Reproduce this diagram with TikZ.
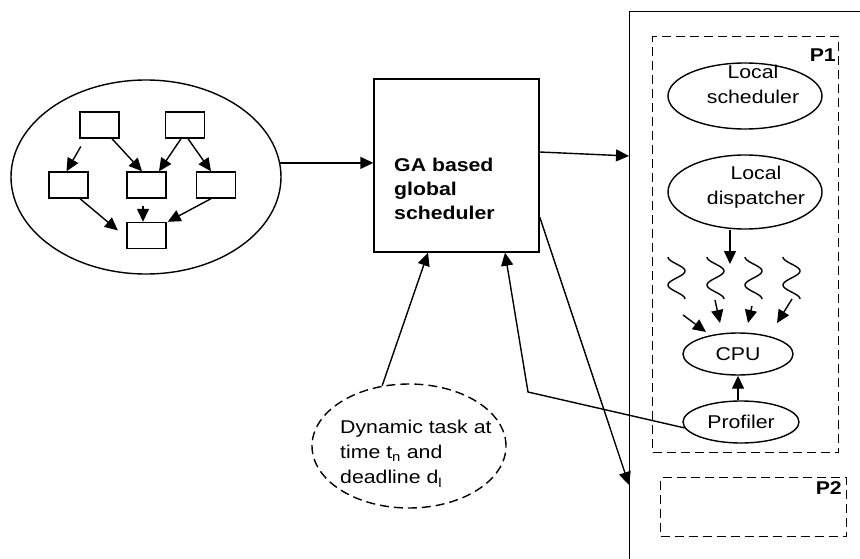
\documentclass[tikz,border=0pt]{standalone}
\usepackage{fontspec}
\setmainfont{Liberation Sans}[FakeStretch=1.15]
\usetikzlibrary{arrows.meta,calc,shapes.geometric}
\begin{document}
\begin{tikzpicture}[x=1pt,y=-1pt,
  ln/.style={line width=1.4pt},
  arr/.style={ln,-{Triangle[length=13pt,width=12pt]}},
  dsh/.style={ln,dash pattern=on 9pt off 5pt},
  smallbox/.style={draw,ln,rectangle,minimum width=39pt,minimum height=26pt,inner sep=0pt},
  ell/.style={draw,ln,ellipse,inner sep=0pt},
  txt/.style={inner sep=0pt,font=\fontsize{18.5}{25}\selectfont},
  btxt/.style={inner sep=0pt,font=\fontsize{18.5}{24}\selectfont\bfseries},
]
\useasboundingbox (0,0) rectangle (860,559);
\clip (0,0) rectangle (860,559);
\fill[white] (0,0) rectangle (860,559);

% task graph
\node[ell,minimum width=270pt,minimum height=194pt] (tasks) at (146,177) {};
\node[smallbox] (A) at (99.5,125) {};
\node[smallbox] (B) at (185,125) {};
\node[smallbox] (C) at (68.5,185) {};
\node[smallbox] (D) at (146.5,185) {};
\node[smallbox] (E) at (216,185) {};
\node[smallbox] (F) at (146.5,235.5) {};
\draw[arr,shorten <=9pt] ($(A.south west)+(6,0)$) -- ($(C.north)+(-2,0)$);
\draw[arr] ($(A.south)+(12.5,0)$) -- ($(D.north)+(-4.5,0)$);
\draw[arr] ($(B.south)+(-4,0)$) -- ($(D.north)+(12.5,0)$);
\draw[arr] ($(B.south)+(3,0)$) -- ($(E.north)+(-5,0)$);
\draw[arr,shorten >=11pt] ($(C.south)+(11.5,0)$) -- ($(F.west)+(0,2)$);
\draw[arr,shorten <=7pt] ($(D.south)+(-3.5,0)$) -- ($(F.north)+(-3.5,0)$);
\draw[arr] ($(E.south)+(-5,0)$) -- ($(F.north east)+(1,0)$);

% global scheduler
\node[draw,ln,rectangle,minimum width=165pt,minimum height=173pt,inner sep=0pt] (GA) at (456.5,165.5) {};
\node[btxt,align=left,anchor=west] (GAtext) at (394,189) {GA based\\global\\scheduler};

% processors
\node[draw,ln,rectangle,anchor=north west,minimum width=260pt,minimum height=580pt,inner sep=0pt] (proc) at (629,11) {};
\node[draw,dsh,rectangle,anchor=north west,minimum width=186pt,minimum height=416pt,inner sep=0pt] (P1) at (652,36) {};
\node[btxt,anchor=east] (P1lab) at (836,55) {P1};
\node[draw,dsh,rectangle,anchor=north west,minimum width=186pt,minimum height=59pt,inner sep=0pt] (P2) at (660,477) {};
\node[btxt,anchor=east] (P2lab) at (842,488) {P2};

\node[ell,minimum width=154pt,minimum height=66pt] (lsched) at (745,96) {};
\node[txt,align=center] (lschedtext) at (753,84.5) {Local\\scheduler};
\node[ell,minimum width=154pt,minimum height=74pt] (disp) at (745,192) {};
\node[txt,align=center] (disptext) at (756,187.5) {Local\\dispatcher};
\node[ell,txt,minimum width=110pt,minimum height=42pt] (cpu) at (738,354) {CPU};
\node[ell,txt,minimum width=116pt,minimum height=42pt] (prof) at (741,422) {Profiler};

% threads
\foreach \sx in {668,707,745,783}{
  \draw[ln] plot[domain=0:540,samples=50,variable=\t] ({\sx+8.5-8.5*cos(\t)},{257+\t/540*42});
}
\coordinate (dtip) at (730,264);
\draw[arr] (disp.south -| dtip) -- (dtip);
\foreach \i/\sx/\sy/\ex/\ey in {1/683/315/-32/-22, 2/715/300/-18/-31, 3/752/306/10/-31, 4/792/299/39/-31}{
  \coordinate (th\i) at (\sx,\sy);
  \draw[arr] (th\i) -- ($(cpu.center)+(\ex,\ey)$);
}
\draw[arr] (cpu.south |- prof.north) -- (cpu.south);

% dynamic task
\node[draw,dsh,ellipse,minimum width=194pt,minimum height=124pt,inner sep=0pt] (dyn) at (409,446) {};
\node[txt,align=left,anchor=west] (dyntext) at (340,454) {Dynamic task at\\time t\textsubscript{n} and\\deadline d\textsubscript{l}};

% main connectors
\draw[arr] (tasks.6) -- (tasks.6 -| GA.west);
\draw[arr] ($(GA.east)+(0,-13.5)$) -- ($(proc.north west)+(0,145)$);
\draw[arr] ($(GA.east)+(0,51.5)$) -- ($(proc.north west)+(0,474)$);
\draw[arr] (dyn.114) -- ($(GA.south)+(-28.5,0)$);
\coordinate (bend) at (528,392);
\draw[arr] (prof.186) -- (bend) -- ($(GA.south)+(48.5,0)$);
\end{tikzpicture}
\end{document}
